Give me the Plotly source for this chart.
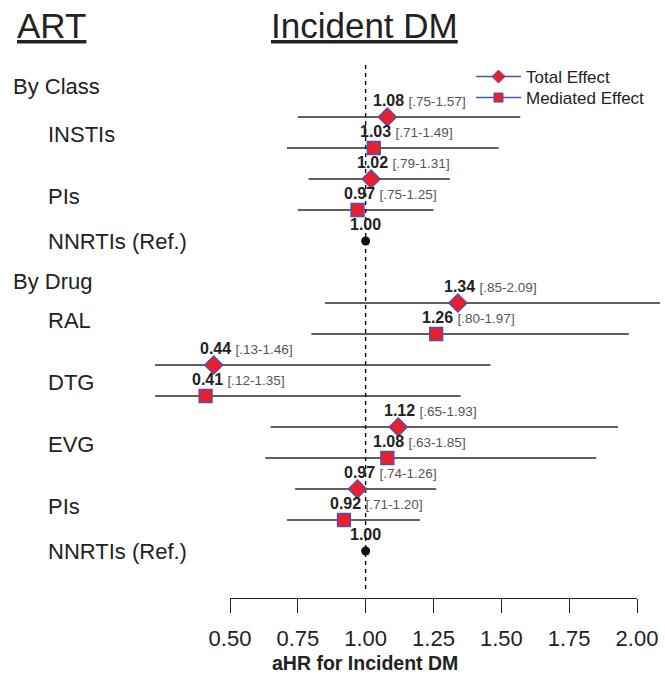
import plotly.graph_objects as go

# ---------------- data ----------------
class_names = ["INSTIs", "PIs"]
class_total = [1.08, 1.02]
class_total_lo = [0.75, 0.79]
class_total_hi = [1.57, 1.31]
class_med = [1.03, 0.97]
class_med_lo = [0.71, 0.75]
class_med_hi = [1.49, 1.25]

drug_names = ["RAL", "DTG", "EVG", "PIs"]
drug_total = [1.34, 0.44, 1.12, 0.97]
drug_total_lo = [0.85, 0.13, 0.65, 0.74]
drug_total_hi = [2.09, 1.46, 1.93, 1.26]
drug_med = [1.26, 0.41, 1.08, 0.92]
drug_med_lo = [0.80, 0.12, 0.63, 0.71]
drug_med_hi = [1.97, 1.35, 1.85, 1.20]

ref_name = "NNRTIs (Ref.)"
ref_value = 1.00

tick_vals = [0.50, 0.75, 1.00, 1.25, 1.50, 1.75, 2.00]
tick_text = ["0.50", "0.75", "1.00", "1.25", "1.50", "1.75", "2.00"]

group_titles = ["By Class", "By Drug"]
axis_title = "aHR for Incident DM"
col_title_left = "ART"
col_title_right = "Incident DM"
legend_names = ["Total Effect", "Mediated Effect"]

# ---------------- styling ----------------
FONT = "Liberation Sans, Arial, Helvetica, sans-serif"
RED = "#e8202e"
BLUE = "#4b4fb8"
W, H = 665, 676
ML, MR = 155, 5
ROW0_PX, ROW_PX = 117, 31.0  # pixel position of first row and row spacing

def fmt_ci(v):
    s = f"{v:.2f}"
    return s[1:] if s.startswith("0") else s

# ---------------- layout of rows ----------------
rows = []  # (name, total, tlo, thi, med, mlo, mhi, row_index_of_total)
idx = 0
for i, n in enumerate(class_names):
    rows.append((n, class_total[i], class_total_lo[i], class_total_hi[i],
                 class_med[i], class_med_lo[i], class_med_hi[i], idx))
    idx += 2
ref1_idx = idx
idx += 1
group2_idx = idx + 0.3
idx += 1
for i, n in enumerate(drug_names):
    rows.append((n, drug_total[i], drug_total_lo[i], drug_total_hi[i],
                 drug_med[i], drug_med_lo[i], drug_med_hi[i], idx))
    idx += 2
ref2_idx = idx
group_idx = [-1, group2_idx]

def px_to_row(p):
    return (p - ROW0_PX) / ROW_PX

fig = go.Figure()

# invisible trace to show the bottom axis (added first so it sits underneath)
fig.add_trace(go.Scatter(x=[tick_vals[0], tick_vals[-1]], y=[0, 0], xaxis="x2", yaxis="y",
                         mode="markers", marker=dict(opacity=0), showlegend=False, hoverinfo="skip"))

# CI lines
cx, cy = [], []
for (n, t, tl, th, m, ml, mh, r) in rows:
    cx += [tl, th, None, ml, mh, None]
    cy += [r, r, None, r + 1, r + 1, None]
fig.add_trace(go.Scatter(x=cx, y=cy, mode="lines", line=dict(color="#2b2b2b", width=1.4),
                         showlegend=False, hoverinfo="skip"))

# dashed reference line
fig.add_trace(go.Scatter(x=[ref_value, ref_value], y=[px_to_row(65), px_to_row(590)], mode="lines",
                         line=dict(color="#111", width=1.4, dash="4px,4px"),
                         showlegend=False, hoverinfo="skip"))

# markers
fig.add_trace(go.Scatter(x=[r[1] for r in rows], y=[r[7] for r in rows], mode="markers",
                         marker=dict(symbol="diamond", size=14, color=RED, line=dict(color=BLUE, width=1.3)),
                         showlegend=False, hoverinfo="skip"))
fig.add_trace(go.Scatter(x=[r[4] for r in rows], y=[r[7] + 1 for r in rows], mode="markers",
                         marker=dict(symbol="square", size=13, color=RED, line=dict(color=BLUE, width=1.3)),
                         showlegend=False, hoverinfo="skip"))
fig.add_trace(go.Scatter(x=[ref_value, ref_value], y=[ref1_idx, ref2_idx], mode="markers",
                         marker=dict(symbol="circle", size=9, color="#111"),
                         showlegend=False, hoverinfo="skip"))

# legend-only traces (each in its own legend for tight spacing)
fig.add_trace(go.Scatter(x=[None], y=[None], mode="lines+markers", name=legend_names[0],
                         legend="legend",
                         line=dict(color=BLUE, width=1.5),
                         marker=dict(symbol="diamond", size=10, color=RED, line=dict(color=BLUE, width=1))))
fig.add_trace(go.Scatter(x=[None], y=[None], mode="lines+markers", name=legend_names[1],
                         legend="legend2",
                         line=dict(color=BLUE, width=1.5),
                         marker=dict(symbol="square", size=9, color=RED, line=dict(color=BLUE, width=1))))

plot_w = W - ML - MR
ann = []
def lab(v, lo, hi, r):
    ann.append(dict(x=v, y=r, xref="x", yref="y", xanchor="left", yanchor="middle",
                    xshift=-16, yshift=17, showarrow=False,
                    text=f"<b>{v:.2f}</b> <span style='font-size:13.5px;color:#555'>[{fmt_ci(lo)}-{fmt_ci(hi)}]</span>",
                    font=dict(family=FONT, size=16, color="#222")))

for (n, t, tl, th, m, ml, mh, r) in rows:
    lab(t, tl, th, r)
    lab(m, ml, mh, r + 1)
    ann.append(dict(x=(46 - ML) / plot_w, y=r + 0.55, xref="paper", yref="y",
                    xanchor="left", yanchor="middle", showarrow=False, text=n,
                    font=dict(family=FONT, size=22, color="#222")))
for ri in (ref1_idx, ref2_idx):
    ann.append(dict(x=ref_value, y=ri, xref="x", yref="y", xanchor="center", yanchor="middle",
                    yshift=17, showarrow=False, text=f"<b>{ref_value:.2f}</b>",
                    font=dict(family=FONT, size=16, color="#222")))
    ann.append(dict(x=(46 - ML) / plot_w, y=ri, xref="paper", yref="y",
                    xanchor="left", yanchor="middle", showarrow=False, text=ref_name,
                    font=dict(family=FONT, size=22, color="#222")))
for g, gi in zip(group_titles, group_idx):
    ann.append(dict(x=(11 - ML) / plot_w, y=gi, xref="paper", yref="y",
                    xanchor="left", yanchor="middle", showarrow=False, text=g,
                    font=dict(family=FONT, size=22, color="#222")))

# column titles
for t, xp in ((col_title_left, 15), (col_title_right, 269)):
    ann.append(dict(x=(xp - ML) / plot_w, y=1 - 25 / H, xref="paper", yref="paper",
                    xanchor="left", yanchor="middle", showarrow=False,
                    text=f"<span style='text-decoration:underline'>{t}</span>",
                    font=dict(family=FONT, size=35, color="#222")))

# axis title
ann.append(dict(x=(365 - ML) / plot_w, y=1 - 663 / H, xref="paper", yref="paper",
                xanchor="center", yanchor="middle", showarrow=False, text=f"<b>{axis_title}</b>",
                font=dict(family=FONT, size=19.5, color="#222")))

leg_common = dict(xanchor="left", yanchor="middle", bgcolor="rgba(0,0,0,0)",
                  font=dict(family=FONT, size=17, color="#222"), itemwidth=45)

fig.update_layout(
    width=W, height=H,
    margin=dict(l=ML, r=MR, t=0, b=0, autoexpand=False),
    paper_bgcolor="white", plot_bgcolor="rgba(0,0,0,0)",
    font=dict(family=FONT, color="#222"),
    xaxis=dict(range=[0.5 - (230 - ML) / 271.3, 0.5 + (W - MR - 230) / 271.3],
               visible=False, showgrid=False, zeroline=False),
    xaxis2=dict(domain=[(230 - ML) / plot_w, (637 - ML) / plot_w], range=[0.5, 2.0],
                anchor="free", position=1 - 598 / H,
                showline=True, linecolor="#222", linewidth=1.3,
                ticks="outside", ticklen=14, tickwidth=1.3, tickcolor="#222",
                tickvals=tick_vals, ticktext=tick_text, ticklabelstandoff=6,
                tickfont=dict(family=FONT, size=22, color="#222"),
                showgrid=False, zeroline=False, automargin=False),
    yaxis=dict(range=[px_to_row(H), px_to_row(0)], visible=False,
               showgrid=False, zeroline=False),
    legend=dict(x=(471 - ML) / plot_w, y=1 - 77 / H, **leg_common),
    legend2=dict(x=(471 - ML) / plot_w, y=1 - 98 / H, **leg_common),
    annotations=ann,
    showlegend=True,
)

fig.write_html("out.html")
